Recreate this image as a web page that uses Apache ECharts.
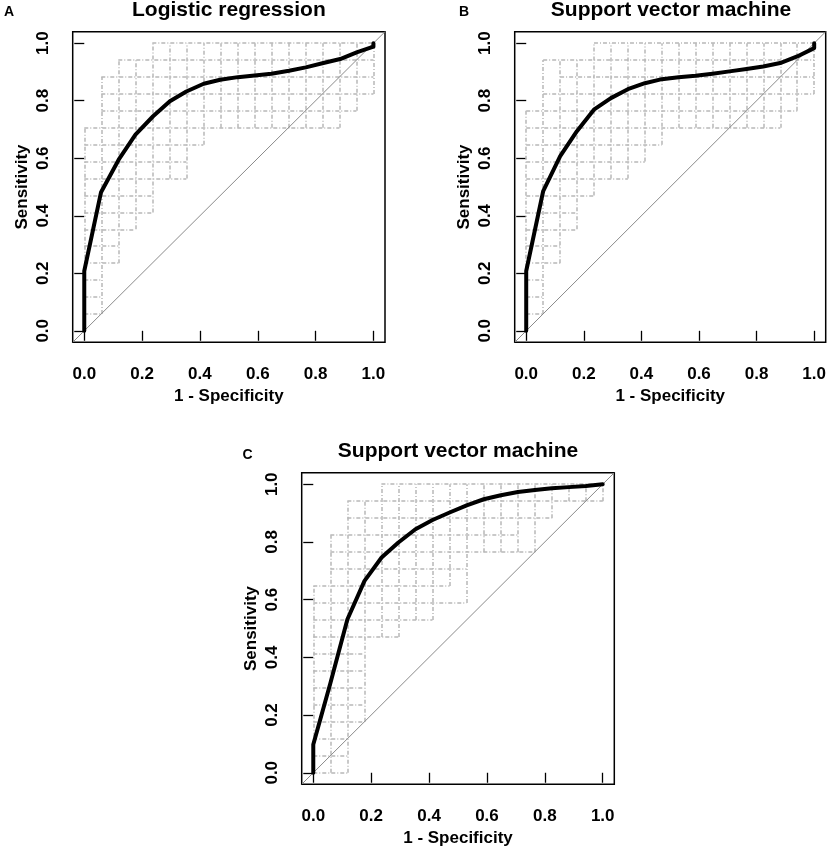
<!DOCTYPE html>
<html>
<head>
<meta charset="utf-8">
<title>ROC curves</title>
<script src="https://cdn.jsdelivr.net/npm/echarts@6/dist/echarts.min.js"></script>
<style>
  html, body { margin: 0; padding: 0; background: #fff; }
  #chart { width: 829px; height: 849px; }
</style>
</head>
<body>
<div id="chart"></div>
<script>
// grid resolution of the bootstrap step curves (1/17 per step)
var STEPS = 17;
var ticks = [0, 0.2, 0.4, 0.6, 0.8, 1.0];

var titles = ['Logistic regression', 'Support vector machine', 'Support vector machine'];
var letters = ['A', 'B', 'C'];

// smoothed ROC curves: 1 - specificity / sensitivity
var fprA = [0, 0, 0.058, 0.119, 0.177, 0.238, 0.296, 0.353, 0.413, 0.47, 0.531, 0.589, 0.647, 0.708, 0.766, 0.827, 0.885, 0.942, 1, 1];
var tprA = [0, 0.208, 0.482, 0.595, 0.682, 0.746, 0.798, 0.832, 0.859, 0.873, 0.882, 0.888, 0.894, 0.904, 0.916, 0.931, 0.945, 0.968, 0.988, 1];

var fprB = [0, 0, 0.059, 0.118, 0.176, 0.235, 0.294, 0.353, 0.412, 0.471, 0.529, 0.588, 0.647, 0.706, 0.765, 0.823, 0.882, 0.941, 1, 1];
var tprB = [0, 0.208, 0.486, 0.607, 0.694, 0.769, 0.809, 0.840, 0.861, 0.875, 0.882, 0.887, 0.894, 0.902, 0.910, 0.919, 0.931, 0.954, 0.983, 1];

var fprC = [0, 0, 0.059, 0.118, 0.177, 0.236, 0.294, 0.353, 0.412, 0.471, 0.53, 0.589, 0.648, 0.707, 0.766, 0.824, 0.883, 0.942, 1];
var tprC = [0, 0.098, 0.31, 0.532, 0.665, 0.746, 0.798, 0.844, 0.876, 0.902, 0.927, 0.948, 0.962, 0.973, 0.98, 0.986, 0.99, 0.994, 1];

// confidence band drawn as step lines
// rows: index = sensitivity step, value = [from step, to step] on the x side
// cols: index = 1-specificity step, value = [from step, to step] on the y side
var bandRowsA = [null, [0,1], [0,1], [0,1], [0,2], [0,2], [0,3], [0,4], [0,4], [0,6], [0,6], [0,7], [0,15], [1,16], [1,17], [1,17], [2,17], [4,17]];
var bandColsA = [[0,12], [1,15], [4,16], [6,16], [7,17], [9,17], [9,17], [11,17], [12,17], [12,17], [12,17], [12,17], [12,17], [12,17], [12,17], [12,17], [13,17], [14,17]];

var bandRowsB = [null, [0,1], [0,1], [0,1], [0,2], [0,2], [0,3], [0,3], [0,4], [0,6], [0,7], [0,8], [0,15], [0,16], [1,17], [2,17], [1,17], [4,17]];
var bandColsB = [[0,13], [1,16], [4,16], [6,16], [8,17], [9,17], [9,17], [10,17], [11,17], [12,17], [12,17], [12,17], [12,17], [12,17], [12,17], [12,17], [13,17], [14,17]];

var bandRowsC = [[0,2], [0,2], [0,2], [0,3], [0,3], [0,3], [0,3], [0,3], [0,5], [0,7], [0,9], [0,8], [1,9], [1,13], [1,12], [2,14], [2,17], [4,17]];
var bandColsC = [[0,11], [0,14], [0,16], [3,16], [8,17], [8,17], [9,17], [9,17], [11,17], [10,17], [13,17], [13,17], [13,17], [13,17], [15,17], [16,17], [16,17], [16,17]];

var panels = [
    { fpr: fprA, tpr: tprA, rows: bandRowsA, cols: bandColsA, box: { left: 72.7, top: 31.7, width: 312.3, height: 310.6 } },
    { fpr: fprB, tpr: tprB, rows: bandRowsB, cols: bandColsB, box: { left: 514.7, top: 31.7, width: 312.6, height: 310.6 } },
    { fpr: fprC, tpr: tprC, rows: bandRowsC, cols: bandColsC, box: { left: 301.7, top: 472.7, width: 312.6, height: 311.6 } }
];

var FONT = '"Liberation Sans", Arial, sans-serif';

function bandSegments(rows, cols) {
    var segs = [];
    rows.forEach(function (r, j) {
        if (r) segs.push({ coords: [[r[0] / STEPS, j / STEPS], [r[1] / STEPS, j / STEPS]] });
    });
    cols.forEach(function (c, k) {
        if (c) segs.push({ coords: [[k / STEPS, c[0] / STEPS], [k / STEPS, c[1] / STEPS]] });
    });
    return segs;
}

function zip(xs, ys) {
    return xs.map(function (x, i) { return [x, ys[i]]; });
}

var grids = [], xAxes = [], yAxes = [], series = [], graphics = [];

panels.forEach(function (p, i) {
    grids.push({
        left: p.box.left, top: p.box.top, width: p.box.width, height: p.box.height,
        show: true, borderColor: '#000', borderWidth: 1.5, backgroundColor: 'transparent',
        containLabel: false
    });
    var common = {
        type: 'value', gridIndex: i, min: -0.04, max: 1.04,
        axisLine: { show: false },
        splitLine: { show: false },
        axisTick: { show: true, inside: false, length: 10, customValues: ticks, lineStyle: { color: '#000', width: 1.3 } },
        nameLocation: 'middle',
        nameTextStyle: { fontSize: 17, fontWeight: 'bold', color: '#000', fontFamily: FONT }
    };
    xAxes.push(Object.assign({}, common, {
        position: 'bottom',
        name: '1 - Specificity', nameGap: 46,
        axisLabel: { customValues: ticks, margin: 24, fontSize: 17, fontWeight: 'bold', color: '#000', fontFamily: FONT,
            formatter: function (v) { return v.toFixed(1); } }
    }));
    yAxes.push(Object.assign({}, common, {
        position: 'left',
        name: 'Sensitivity', nameGap: 42,
        axisLabel: { customValues: ticks, margin: 21, rotate: 90, fontSize: 17, fontWeight: 'bold', color: '#000', fontFamily: FONT,
            formatter: function (v) { return v.toFixed(1); } }
    }));

    series.push({
        type: 'lines', coordinateSystem: 'cartesian2d', xAxisIndex: i, yAxisIndex: i,
        data: bandSegments(p.rows, p.cols), silent: true, z: 1,
        lineStyle: { color: '#b8b8b8', width: 1.5, type: [4, 2, 1, 2], opacity: 1 }
    });
    series.push({
        type: 'line', xAxisIndex: i, yAxisIndex: i, data: [[-0.04, -0.04], [1.04, 1.04]],
        showSymbol: false, silent: true, z: 2, lineStyle: { color: '#8a8a8a', width: 1 }
    });
    series.push({
        type: 'line', xAxisIndex: i, yAxisIndex: i, data: zip(p.fpr, p.tpr),
        showSymbol: false, silent: true, z: 3, lineStyle: { color: '#000', width: 4, join: 'round', cap: 'round' }
    });

    var cx = p.box.left + p.box.width / 2;
    graphics.push({
        type: 'text', x: cx, y: p.box.top - 21,
        style: { text: titles[i], font: 'bold 21px ' + FONT, fill: '#000', textAlign: 'center', textVerticalAlign: 'middle' }
    });
});

var letterPos = [[9, 12], [464, 12], [247.5, 455]];
letters.forEach(function (l, i) {
    graphics.push({
        type: 'text', x: letterPos[i][0], y: letterPos[i][1],
        style: { text: l, font: 'bold 14px ' + FONT, fill: '#000', textAlign: 'center', textVerticalAlign: 'middle' }
    });
});

var chart = echarts.init(document.getElementById('chart'));
chart.setOption({
    animation: false,
    backgroundColor: '#fff',
    grid: grids,
    xAxis: xAxes,
    yAxis: yAxes,
    series: series,
    graphic: graphics
});
</script>
</body>
</html>
